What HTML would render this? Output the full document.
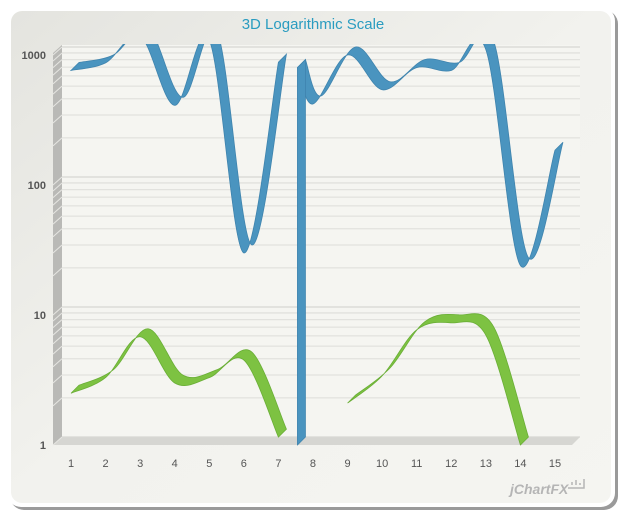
<!DOCTYPE html>
<html><head><meta charset="utf-8"><style>
html,body{margin:0;padding:0;background:#fff;}
svg{display:block;font-family:"Liberation Sans",sans-serif;}
</style></head><body>
<svg width="630" height="525" viewBox="0 0 630 525">
<defs>
<linearGradient id="bg" x1="0" y1="0" x2="1" y2="1"><stop offset="0" stop-color="#e4e4df"/><stop offset="0.5" stop-color="#f2f2ee"/><stop offset="1" stop-color="#f5f5f1"/></linearGradient>
<clipPath id="plotclip"><rect x="53" y="44" width="530" height="401.5"/></clipPath>
</defs>
<rect x="10" y="10" width="608" height="500" rx="14" fill="#9a9a9a"/>
<rect x="7" y="7" width="608" height="500" rx="14" fill="#fff"/>
<rect x="11" y="11" width="600" height="492" rx="11" fill="url(#bg)"/>
<text x="313" y="29" text-anchor="middle" font-size="15" fill="#2a9cc0">3D Logarithmic Scale</text>
<rect x="62" y="45" width="518" height="392" fill="#f5f5f1"/>
<polygon points="53,53 62,45 62,437 53,445" fill="#b9b9b6"/>
<polygon points="53,445 62,437 580,437 572,445" fill="#d6d6d2"/>
<g id="grid"></g>
<g id="axes"></g>
<g id="series" clip-path="url(#plotclip)"></g>
<g><text x="510" y="494" font-size="14" font-style="italic" font-weight="bold" fill="#b5b5b5">jChartFX</text>
<path d="M568 488 h16 v-9 M572 485 v-3 M576 485 v-5 M580 485 v-2" stroke="#b5b5b5" stroke-width="1.5" fill="none"/></g>
</svg>
<script>
const categories=[1,2,3,4,5,6,7,8,9,10,11,12,13,14,15];
const blueValues=[760,870,1400,410,1300,30,880,420,1000,540,800,760,1100,24,185];
const greenValues=[2.5,3.3,6.8,3.0,3.3,4.5,1.15,null,2.1,3.4,7.7,8.7,7.0,1.0,null];
const blueBreakAfter=[7];
const blueDrop=[7.55,800];
const yTickValues=[1,10,100,1000];
const yTickLabels=["1","10","100","1000"];
const NS="http://www.w3.org/2000/svg";
const DX=8,DY=-8;
function xS(c){return 71+(c-1)*34.57;}
function yS(v){return 445-Math.log10(v)*130;}
function mk(tag,attrs,parent){const e=document.createElementNS(NS,tag);for(const k in attrs)e.setAttribute(k,attrs[k]);parent.appendChild(e);return e;}
const grid=document.getElementById('grid'),axes=document.getElementById('axes'),ser=document.getElementById('series');
for(let d=0;d<3;d++){for(let m=1;m<=10;m++){const v=Math.pow(10,d)*m;if(m===10&&d<2)continue;const y=yS(v)+DY;
 const l=mk('line',{x1:62,x2:580,y1:y,y2:y,stroke:m===1||m===10?'#d8d8d4':'#e2e2de','stroke-width':1.3},grid);
 
 
 const t=mk('line',{x1:53,y1:yS(v),x2:62,y2:y,stroke:'#e6e6e2','stroke-width':1},grid);
 
 }}
yTickValues.forEach((v,i)=>{const t=mk('text',{x:46,y:yS(v)+4,'text-anchor':'end','font-size':11,fill:'#555','font-weight':'bold'},axes);t.textContent=yTickLabels[i];
 
 });
categories.forEach(c=>{const t=mk('text',{x:xS(c),y:467,'text-anchor':'middle','font-size':11,fill:'#555'},axes);t.textContent=String(c);
 
 });
function spline(pts){let d=`M${pts[0][0]},${pts[0][1]}`;for(let i=0;i<pts.length-1;i++){const p0=pts[i-1]||pts[i],p1=pts[i],p2=pts[i+1],p3=pts[i+2]||p2;
 const c1=[p1[0]+(p2[0]-p0[0])/6,p1[1]+(p2[1]-p0[1])/6],c2=[p2[0]-(p3[0]-p1[0])/6,p2[1]-(p3[1]-p1[1])/6];
 d+=` C${c1[0]},${c1[1]} ${c2[0]},${c2[1]} ${p2[0]},${p2[1]}`;}return d;}
function ribbon(pts,fill,stroke,name){if(pts.length<2)return;
 const front=spline(pts);const back=pts.slice().reverse().map(p=>[p[0]+DX,p[1]+DY]);
 let bd=spline(back).replace(/^M/,'L');
 const p=mk('path',{d:front+' '+bd+' Z',fill:fill,stroke:stroke,'stroke-width':0.8},ser);
 
 }
function segments(vals,breaks){const segs=[];let cur=[];vals.forEach((v,i)=>{if(v==null){if(cur.length)segs.push(cur);cur=[];return;}
 cur.push([xS(categories[i]),yS(v)]);if(breaks.includes(categories[i])){segs.push(cur);cur=[];}});if(cur.length)segs.push(cur);return segs;}
segments(greenValues,[]).forEach(s=>ribbon(s,'#7dc242','#6aae36','green-series-ribbon'));
const blueSegs=segments(blueValues,blueBreakAfter);
const dx=xS(blueDrop[0]),dy=yS(blueDrop[1]);
if(blueSegs.length>1)blueSegs[1].unshift([dx,dy]);
blueSegs.forEach(s=>ribbon(s,'#4a94bf','#3f84ae','blue-series-ribbon'));
const drop=mk('polygon',{points:`${dx},${dy} ${dx+DX},${dy+DY} ${dx+DX},${445+DY} ${dx},445`,fill:'#4a94bf',stroke:'#3f84ae','stroke-width':0.8},ser);


</script>
</body></html>
